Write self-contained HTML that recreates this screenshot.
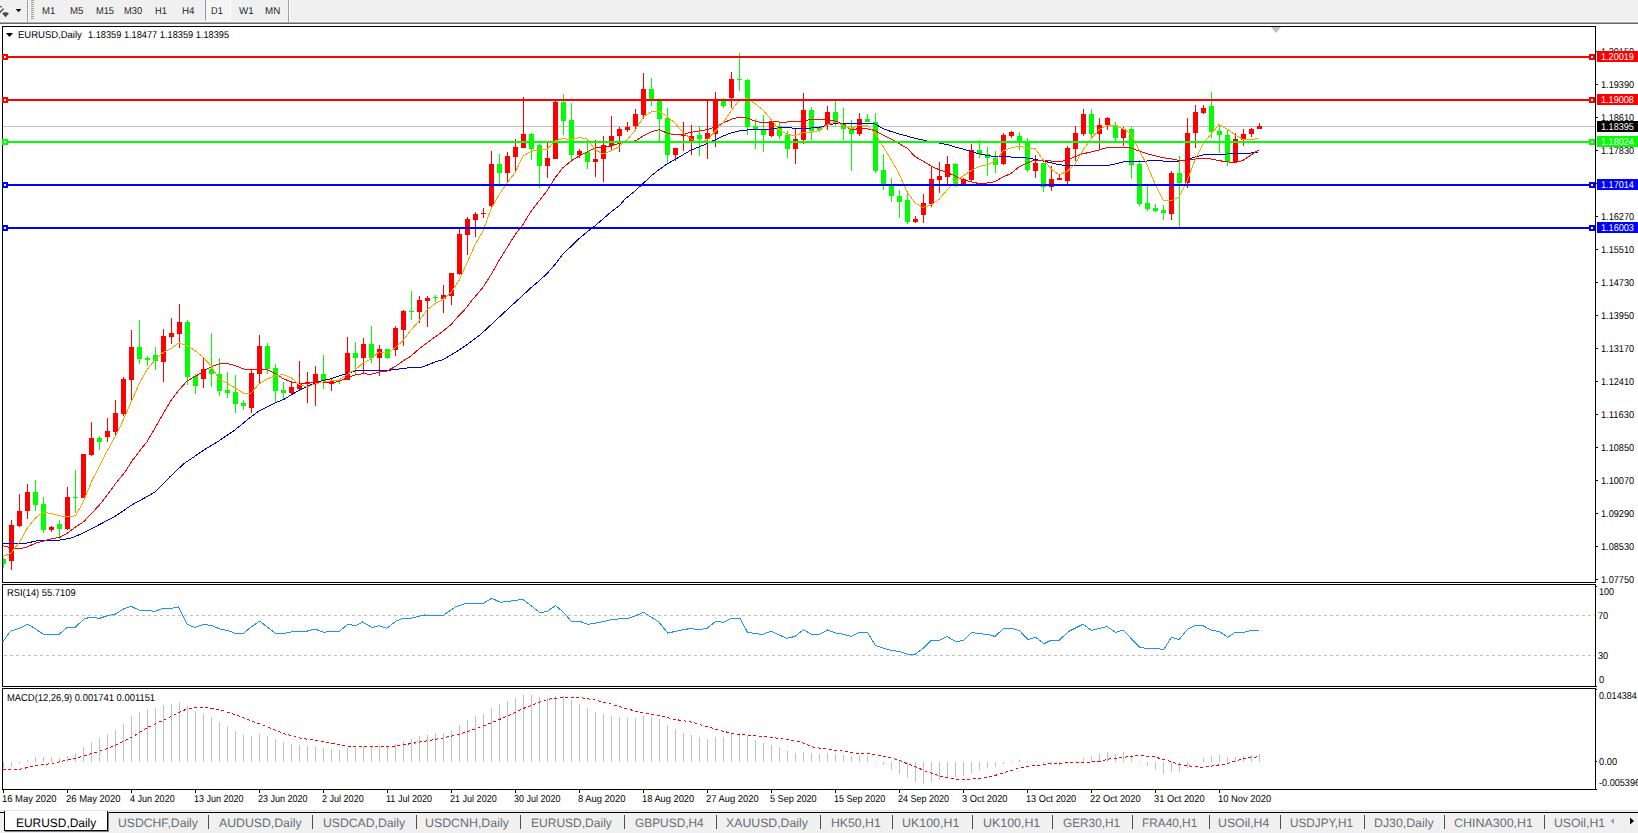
<!DOCTYPE html>
<html><head><meta charset="utf-8"><title>EURUSD,Daily</title>
<style>
html,body{margin:0;padding:0;background:#fff;}
html{overflow:hidden;width:1638px;height:833px;}
body{width:1638px;height:833px;overflow:hidden;position:relative;font-family:"Liberation Sans",sans-serif;}
.t{position:absolute;white-space:nowrap;line-height:1;color:#000;text-rendering:geometricPrecision;}
.ax{font-size:9.3px;left:1601px;}
.bx{position:absolute;left:1597px;width:41px;height:11px;}
.bx span{position:absolute;left:4px;top:1.6px;font-size:9.3px;line-height:9px;color:#fff;white-space:nowrap;}
.dt{font-size:9.3px;top:794px;}
.tb{font-size:9.5px;top:5.6px;color:#333;}
.tab{font-size:12px;top:816.6px;color:#6c6c72;}
.sep{position:absolute;top:815px;width:1px;height:14px;background:#505050;}
</style></head><body>
<div style="position:absolute;left:0;top:0;width:1638px;height:21px;background:#f0f0f0"></div>
<div style="position:absolute;left:0;top:21px;width:1638px;height:1px;background:#f8f8f8"></div>
<div style="position:absolute;left:0;top:22px;width:1638px;height:1px;background:#a8a8a8"></div>
<div style="position:absolute;left:0;top:23px;width:1638px;height:1px;background:#696969"></div>
<div style="position:absolute;left:27px;top:0;width:1px;height:22px;background:#a0a0a0"></div>
<div style="position:absolute;left:28px;top:0;width:1px;height:22px;background:#fff"></div>
<div style="position:absolute;left:288px;top:0;width:1px;height:22px;background:#a0a0a0"></div>
<div style="position:absolute;left:289px;top:0;width:1px;height:22px;background:#fff"></div>
<div style="position:absolute;left:31px;top:0;width:3px;height:20px;background:repeating-linear-gradient(#a0a0a0 0 1px,#f0f0f0 1px 2px)"></div>
<div style="position:absolute;left:205px;top:0;width:26px;height:21px;background:#f5f5f5;border-left:1px solid #9a9a9a;border-right:1px solid #fff;border-bottom:1px solid #fff;box-sizing:border-box"></div>
<svg style="position:absolute;left:0;top:0" width="30" height="22" viewBox="0 0 30 22"><path d="M-.5 12.800L3.600 8.600" stroke="#404040" stroke-width="1.300" fill="none"/><path d="M0 6.300L1.800 7.300" stroke="#404040" stroke-width="1.200" fill="none"/><path d="M2 13.300L4.300 12.300H6.600L9 13.300L5.500 17.200z" fill="#4a4a4a"/><path d="M15.800 9.100h5.500l-2.750 3.100z" fill="#000"/></svg>

<div class="t" style="left:42.2px;top:6.62px;font-size:10.0px;color:#262626;transform:scaleX(0.9501);transform-origin:0 0;">M1</div>
<div class="t" style="left:70.1px;top:6.62px;font-size:10.0px;color:#262626;transform:scaleX(0.9645);transform-origin:0 0;">M5</div>
<div class="t" style="left:96.2px;top:6.62px;font-size:10.0px;color:#262626;transform:scaleX(0.9252);transform-origin:0 0;">M15</div>
<div class="t" style="left:124.1px;top:6.62px;font-size:10.0px;color:#262626;transform:scaleX(0.9303);transform-origin:0 0;">M30</div>
<div class="t" style="left:155.3px;top:6.62px;font-size:10.0px;color:#262626;transform:scaleX(0.9308);transform-origin:0 0;">H1</div>
<div class="t" style="left:182.2px;top:6.62px;font-size:10.0px;color:#262626;transform:scaleX(0.9777);transform-origin:0 0;">H4</div>
<div class="t" style="left:211.4px;top:6.62px;font-size:10.0px;color:#262626;transform:scaleX(0.9229);transform-origin:0 0;">D1</div>
<div class="t" style="left:238.5px;top:6.62px;font-size:10.0px;color:#262626;transform:scaleX(0.9799);transform-origin:0 0;">W1</div>
<div class="t" style="left:265.3px;top:6.62px;font-size:10.0px;color:#262626;transform:scaleX(0.9773);transform-origin:0 0;">MN</div>
<svg style="position:absolute;left:0;top:0" width="1638" height="833" viewBox="0 0 1638 833"><defs><clipPath id="cp"><rect x="3" y="27" width="1592" height="555"/></clipPath></defs><g shape-rendering="crispEdges" clip-path="url(#cp)"><rect x="3" y="126" width="1592" height="1" fill="#c0c0c0"/><path d="M1 559h5v5h-5zM3 558h1v10h-1zM33 492h5v13h-5zM35 480h1v31h-1zM41 504h5v26h-5zM43 497h1v36h-1zM57 524h5v5h-5zM59 520h1v19h-1zM73 497h5v1h-5zM75 470h1v43h-1zM97 438h5v4h-5zM99 436h1v14h-1zM137 347h5v12h-5zM139 320h1v44h-1zM145 358h5v2h-5zM147 356h1v10h-1zM153 355h5v6h-5zM155 347h1v23h-1zM185 322h5v55h-5zM187 320h1v65h-1zM193 376h5v10h-5zM195 374h1v20h-1zM209 369h5v5h-5zM211 333h1v54h-1zM217 374h5v17h-5zM219 358h1v38h-1zM225 390h5v3h-5zM227 372h1v26h-1zM233 392h5v12h-5zM235 375h1v38h-1zM241 403h5v3h-5zM243 400h1v10h-1zM265 346h5v23h-5zM267 343h1v31h-1zM273 368h5v23h-5zM275 364h1v39h-1zM281 390h5v3h-5zM283 382h1v18h-1zM321 374h5v7h-5zM323 355h1v34h-1zM337 380h5v1h-5zM339 379h1v5h-1zM353 353h5v5h-5zM355 342h1v32h-1zM369 344h5v14h-5zM371 326h1v37h-1zM385 349h5v9h-5zM387 349h1v10h-1zM409 311h5v1h-5zM411 291h1v29h-1zM433 297h5v1h-5zM435 295h1v7h-1zM497 164h5v9h-5zM499 154h1v32h-1zM529 134h5v15h-5zM531 133h1v27h-1zM537 145h5v21h-5zM539 144h1v44h-1zM561 102h5v19h-5zM563 94h1v41h-1zM569 120h5v35h-5zM571 103h1v59h-1zM585 152h5v10h-5zM587 142h1v27h-1zM649 89h5v12h-5zM651 78h1v28h-1zM657 101h5v18h-5zM659 100h1v42h-1zM665 118h5v37h-5zM667 108h1v56h-1zM697 135h5v4h-5zM699 126h1v30h-1zM721 101h5v5h-5zM723 98h1v10h-1zM737 79h5v1h-5zM739 53h1v38h-1zM745 80h5v47h-5zM747 79h1v56h-1zM753 126h5v4h-5zM755 119h1v30h-1zM761 130h5v5h-5zM763 115h1v37h-1zM777 126h5v10h-5zM779 123h1v16h-1zM785 135h5v14h-5zM787 131h1v27h-1zM809 110h5v21h-5zM811 107h1v33h-1zM817 127h5v3h-5zM819 126h1v6h-1zM833 112h5v11h-5zM835 101h1v25h-1zM841 124h5v5h-5zM843 108h1v32h-1zM849 128h5v6h-5zM851 120h1v51h-1zM865 119h5v3h-5zM867 114h1v8h-1zM873 122h5v49h-5zM875 113h1v60h-1zM881 170h5v14h-5zM883 154h1v36h-1zM889 186h5v10h-5zM891 178h1v24h-1zM897 196h5v6h-5zM899 190h1v28h-1zM905 200h5v22h-5zM907 191h1v33h-1zM953 164h5v20h-5zM955 163h1v24h-1zM977 150h5v4h-5zM979 140h1v18h-1zM985 154h5v4h-5zM987 147h1v29h-1zM993 158h5v7h-5zM995 151h1v22h-1zM1017 136h5v6h-5zM1019 132h1v18h-1zM1025 142h5v28h-5zM1027 138h1v34h-1zM1041 163h5v24h-5zM1043 163h1v29h-1zM1089 114h5v20h-5zM1091 109h1v30h-1zM1113 125h5v13h-5zM1115 122h1v19h-1zM1129 129h5v36h-5zM1131 127h1v52h-1zM1137 164h5v40h-5zM1139 160h1v46h-1zM1145 203h5v6h-5zM1147 186h1v25h-1zM1153 208h5v3h-5zM1155 204h1v8h-1zM1161 210h5v3h-5zM1163 205h1v15h-1zM1177 173h5v10h-5zM1179 156h1v71h-1zM1209 106h5v26h-5zM1211 92h1v46h-1zM1217 131h5v4h-5zM1219 125h1v28h-1zM1225 135h5v27h-5zM1227 130h1v36h-1z" fill="#00ff00"/><path d="M9 525h5v36h-5zM11 520h1v50h-1zM17 511h5v15h-5zM19 494h1v33h-1zM25 492h5v19h-5zM27 484h1v35h-1zM49 527h5v3h-5zM51 526h1v6h-1zM65 497h5v32h-5zM67 487h1v43h-1zM81 454h5v44h-5zM83 454h1v44h-1zM89 438h5v17h-5zM91 422h1v34h-1zM105 431h5v6h-5zM107 418h1v24h-1zM113 413h5v19h-5zM115 400h1v36h-1zM121 379h5v35h-5zM123 377h1v39h-1zM129 347h5v33h-5zM131 330h1v71h-1zM161 336h5v26h-5zM163 329h1v53h-1zM169 333h5v4h-5zM171 318h1v26h-1zM177 322h5v12h-5zM179 304h1v44h-1zM201 369h5v10h-5zM203 358h1v30h-1zM249 373h5v35h-5zM251 369h1v44h-1zM257 346h5v28h-5zM259 335h1v49h-1zM289 387h5v6h-5zM291 381h1v13h-1zM297 383h5v6h-5zM299 361h1v29h-1zM305 382h5v2h-5zM307 372h1v31h-1zM313 374h5v10h-5zM315 366h1v40h-1zM329 381h5v3h-5zM331 379h1v12h-1zM345 353h5v27h-5zM347 337h1v43h-1zM361 344h5v14h-5zM363 338h1v35h-1zM377 349h5v9h-5zM379 345h1v31h-1zM393 328h5v22h-5zM395 326h1v30h-1zM401 311h5v19h-5zM403 310h1v36h-1zM417 300h5v12h-5zM419 296h1v27h-1zM425 298h5v3h-5zM427 296h1v31h-1zM441 295h5v4h-5zM443 285h1v28h-1zM449 273h5v23h-5zM451 273h1v32h-1zM457 234h5v40h-5zM459 228h1v47h-1zM465 219h5v16h-5zM467 217h1v38h-1zM473 214h5v6h-5zM475 212h1v25h-1zM481 213h5v1h-5zM483 208h1v10h-1zM489 164h5v42h-5zM491 151h1v57h-1zM505 156h5v17h-5zM507 152h1v31h-1zM513 147h5v10h-5zM515 139h1v33h-1zM521 134h5v14h-5zM523 97h1v51h-1zM545 158h5v8h-5zM547 143h1v35h-1zM553 102h5v57h-5zM555 100h1v59h-1zM577 151h5v4h-5zM579 149h1v9h-1zM593 159h5v3h-5zM595 140h1v37h-1zM601 145h5v14h-5zM603 136h1v46h-1zM609 136h5v10h-5zM611 116h1v35h-1zM617 129h5v7h-5zM619 127h1v25h-1zM625 127h5v3h-5zM627 122h1v10h-1zM633 114h5v12h-5zM635 109h1v21h-1zM641 89h5v26h-5zM643 73h1v46h-1zM673 148h5v7h-5zM675 148h1v13h-1zM681 135h5v1h-5zM683 122h1v29h-1zM689 136h5v5h-5zM691 125h1v30h-1zM705 133h5v6h-5zM707 101h1v58h-1zM713 100h5v34h-5zM715 92h1v55h-1zM729 79h5v19h-5zM731 72h1v36h-1zM769 121h5v15h-5zM771 120h1v17h-1zM793 139h5v10h-5zM795 129h1v35h-1zM801 110h5v30h-5zM803 93h1v51h-1zM825 112h5v13h-5zM827 106h1v24h-1zM857 119h5v15h-5zM859 113h1v23h-1zM913 219h5v3h-5zM915 216h1v7h-1zM921 203h5v12h-5zM923 194h1v29h-1zM929 179h5v25h-5zM931 167h1v40h-1zM937 176h5v4h-5zM939 162h1v31h-1zM945 164h5v13h-5zM947 156h1v28h-1zM961 179h5v5h-5zM963 178h1v6h-1zM969 150h5v30h-5zM971 144h1v37h-1zM1001 135h5v29h-5zM1003 133h1v32h-1zM1009 132h5v4h-5zM1011 131h1v7h-1zM1033 163h5v8h-5zM1035 155h1v23h-1zM1049 179h5v8h-5zM1051 166h1v25h-1zM1057 178h5v2h-5zM1059 174h1v6h-1zM1065 148h5v33h-5zM1067 146h1v38h-1zM1073 133h5v16h-5zM1075 126h1v35h-1zM1081 114h5v20h-5zM1083 109h1v27h-1zM1097 125h5v9h-5zM1099 118h1v32h-1zM1105 118h5v7h-5zM1107 117h1v13h-1zM1121 129h5v9h-5zM1123 127h1v19h-1zM1169 173h5v41h-5zM1171 171h1v49h-1zM1185 133h5v50h-5zM1187 118h1v70h-1zM1193 112h5v21h-5zM1195 105h1v43h-1zM1201 108h5v5h-5zM1203 105h1v9h-1zM1233 139h5v23h-5zM1235 133h1v29h-1zM1241 134h5v6h-5zM1243 129h1v17h-1zM1249 129h5v5h-5zM1251 128h1v9h-1zM1257 126h5v3h-5zM1259 123h1v6h-1z" fill="#ff0000"/><polyline points="0.0,543.6 14.5,543.6 19.0,544.0 27.0,543.0 36.0,541.0 52.0,540.7 60.6,540.0 72.7,537.6 83.6,532.7 100.6,524.0 116.0,515.8 132.0,504.8 143.0,498.8 155.0,492.0 169.7,477.0 184.0,463.6 200.0,452.7 204.7,449.5 219.0,440.8 235.0,429.9 251.0,416.8 259.0,411.0 275.0,403.0 285.0,398.8 291.0,394.9 299.0,390.5 307.0,386.6 315.0,383.0 323.0,380.5 331.0,378.8 339.0,376.0 347.0,373.6 355.0,371.0 360.0,370.4 387.0,370.4 395.0,369.6 407.0,368.0 420.8,367.5 427.7,364.9 435.0,362.0 443.0,359.6 451.0,355.0 459.0,350.0 465.0,346.0 480.0,335.0 495.0,321.0 510.0,307.0 518.8,299.0 531.0,287.7 539.0,281.0 547.0,273.5 555.0,264.5 563.0,254.0 571.0,246.4 579.0,238.7 587.0,232.0 595.0,225.8 603.0,219.0 611.0,212.0 620.0,205.0 625.0,199.0 635.0,191.0 643.0,183.6 651.0,176.0 659.0,169.7 667.0,164.0 675.0,159.4 683.0,154.8 691.0,150.0 699.0,147.0 707.0,143.6 715.0,139.9 723.0,136.0 731.0,133.0 739.0,131.0 747.0,130.0 755.0,129.0 763.0,129.0 771.0,129.0 779.0,127.8 787.0,127.4 795.0,128.3 803.0,128.7 811.0,128.0 819.0,127.8 827.0,125.0 835.0,123.7 843.0,123.7 851.0,123.7 859.0,123.7 867.0,123.5 875.0,124.0 883.0,128.7 891.0,131.5 899.0,134.0 907.0,136.0 915.0,138.4 923.0,140.0 931.0,142.0 939.0,143.0 947.0,144.5 955.0,147.0 963.0,149.0 971.0,151.4 979.0,153.8 987.0,155.3 995.0,156.6 1003.0,156.6 1011.0,157.0 1019.0,157.6 1027.0,158.0 1035.0,159.4 1043.0,161.0 1051.0,162.8 1059.0,164.6 1067.0,165.6 1075.0,165.6 1083.0,165.6 1091.0,165.6 1099.0,165.6 1107.0,165.6 1115.0,164.0 1123.0,162.0 1131.0,161.0 1139.0,161.0 1147.0,161.0 1155.0,160.3 1163.0,161.0 1171.0,161.0 1179.0,161.0 1187.0,160.0 1195.0,157.0 1203.0,155.0 1211.0,154.0 1219.0,154.0 1227.0,154.0 1235.0,153.5 1243.0,153.5 1251.0,153.0 1258.5,152.0" fill="none" stroke="#0000cd" stroke-width="1"/><polyline points="0.0,545.0 11.0,547.8 19.0,549.0 27.0,547.0 36.0,543.0 43.6,541.0 52.0,538.8 60.6,537.0 68.0,532.7 75.6,527.0 83.6,521.8 92.0,513.0 100.6,503.6 108.0,494.0 116.0,483.0 125.0,472.0 132.0,461.0 143.0,446.7 147.0,441.8 155.0,428.0 163.0,414.0 171.0,400.5 179.0,390.0 187.0,381.0 195.0,376.5 203.0,371.6 211.0,366.8 219.0,364.0 227.0,363.4 235.0,365.5 243.0,368.8 251.0,370.0 259.0,368.8 267.0,369.7 275.0,373.6 283.0,378.4 291.0,382.0 299.0,383.3 307.0,383.0 315.0,382.8 323.0,382.0 331.0,383.0 339.0,381.4 347.0,377.9 355.0,375.0 363.0,373.6 371.0,374.4 379.0,372.0 387.0,371.0 395.0,366.6 403.0,361.0 411.0,356.0 419.0,349.0 427.0,343.0 435.0,337.0 443.0,331.2 451.0,324.5 459.0,315.5 465.0,309.3 472.0,300.3 483.0,287.3 491.0,274.8 499.0,260.6 507.0,247.7 515.0,234.8 523.0,224.5 531.0,211.5 539.0,201.0 547.0,190.9 555.0,178.0 563.0,167.6 571.0,161.0 579.0,156.0 587.0,152.0 595.0,148.0 603.0,147.5 611.0,146.0 619.0,143.4 627.0,142.0 636.0,140.8 643.0,136.0 651.0,132.0 659.0,129.7 667.0,133.0 675.0,135.0 683.0,134.0 691.0,132.4 699.0,131.0 707.0,129.7 715.0,126.9 723.0,123.0 731.0,119.4 739.0,117.0 747.0,118.0 755.0,121.0 763.0,123.0 771.0,121.8 779.0,122.0 787.0,122.0 795.0,121.9 803.0,121.0 811.0,119.4 819.0,119.4 827.0,119.8 835.0,121.0 843.0,124.0 851.0,129.7 859.0,128.7 867.0,128.7 875.0,130.6 883.0,135.0 891.0,139.0 899.0,143.6 907.0,148.0 915.0,156.6 923.0,161.0 931.0,166.0 939.0,169.7 947.0,172.4 955.0,176.0 963.0,179.9 971.0,181.7 979.0,183.6 987.0,183.0 995.0,181.7 1003.0,177.0 1011.0,173.4 1019.0,166.9 1027.0,163.0 1035.0,160.0 1043.0,160.9 1051.0,161.0 1059.0,162.0 1067.0,160.0 1075.0,156.6 1083.0,153.8 1091.0,152.0 1099.0,150.0 1107.0,147.7 1115.0,147.0 1123.0,147.0 1131.0,148.0 1139.0,151.0 1147.0,153.8 1155.0,155.8 1163.0,157.8 1171.0,158.8 1179.0,160.3 1187.0,160.4 1195.0,159.0 1203.0,158.0 1211.0,159.0 1219.0,160.6 1227.0,161.9 1235.0,162.4 1243.0,160.4 1251.0,155.0 1258.5,150.0" fill="none" stroke="#ff0000" stroke-width="1"/><polyline points="0.0,558.0 11.0,553.0 19.4,542.4 27.4,527.9 36.4,517.0 43.6,512.0 52.0,513.8 60.6,516.0 68.0,517.0 75.6,515.8 83.6,501.0 92.0,480.6 100.6,463.6 108.0,449.5 115.4,436.0 123.0,420.6 131.0,402.4 139.0,384.0 147.0,369.7 155.0,360.0 163.0,352.4 171.0,348.6 179.0,342.8 187.0,345.7 195.0,350.5 203.0,357.0 211.0,365.9 219.0,379.0 227.0,383.0 235.0,388.0 243.0,393.0 251.0,393.0 259.0,384.0 267.0,379.0 275.0,375.9 283.0,374.5 291.0,377.7 299.0,384.5 307.0,387.0 315.0,384.0 323.0,382.0 331.0,380.9 339.0,380.0 347.0,374.4 355.0,370.0 363.0,363.0 371.0,358.8 379.0,351.8 387.0,353.6 395.0,348.0 403.0,340.5 411.0,330.0 419.0,321.0 427.0,310.0 435.0,303.6 443.0,299.5 451.0,292.5 459.0,280.5 467.0,263.0 475.0,245.0 483.0,231.0 491.0,209.0 499.0,194.8 507.0,183.0 515.0,172.8 523.0,156.0 531.0,151.4 539.0,150.0 547.0,149.6 555.0,141.0 563.0,138.5 571.0,139.8 579.0,137.4 587.0,139.0 595.0,149.6 603.0,154.0 611.0,151.0 619.0,146.6 627.0,139.9 635.0,130.6 643.0,117.6 651.0,112.0 659.0,111.0 667.0,116.6 675.0,123.0 683.0,132.4 691.0,139.0 699.0,142.7 707.0,139.9 715.0,131.5 723.0,123.0 731.0,111.0 739.0,100.8 747.0,98.6 755.0,103.6 763.0,110.0 771.0,119.4 779.0,129.7 787.0,134.0 795.0,136.0 803.0,132.4 811.0,132.4 819.0,130.6 827.0,125.0 835.0,122.0 843.0,125.0 851.0,128.7 859.0,125.0 867.0,125.0 875.0,133.4 883.0,146.4 891.0,159.4 899.0,173.4 907.0,192.0 915.0,203.0 923.0,207.4 931.0,205.0 939.0,199.4 947.0,190.0 955.0,181.7 963.0,176.0 971.0,170.6 979.0,166.5 987.0,164.8 995.0,161.0 1003.0,151.0 1011.0,147.9 1019.0,146.0 1027.0,148.0 1035.0,148.6 1043.0,159.4 1051.0,168.7 1059.0,175.0 1067.0,171.5 1075.0,164.0 1083.0,150.0 1091.0,139.0 1099.0,129.7 1107.0,125.4 1115.0,125.4 1123.0,128.7 1131.0,134.0 1139.0,150.0 1147.0,165.0 1155.0,183.8 1163.0,200.0 1171.0,201.0 1179.0,197.0 1187.0,181.0 1195.0,160.0 1203.0,144.0 1211.0,134.0 1219.0,124.7 1227.0,129.0 1235.0,134.9 1243.0,139.5 1251.0,140.0 1258.5,138.0" fill="none" stroke="#ffa500" stroke-width="1"/><rect x="3" y="56" width="1592" height="2" fill="#ff0000"/><rect x="3" y="99" width="1592" height="2" fill="#ff0000"/><rect x="3" y="141" width="1592" height="2" fill="#00ff00"/><rect x="3" y="184" width="1592" height="2" fill="#0000ff"/><rect x="3" y="227" width="1592" height="2" fill="#0000ff"/></g><g shape-rendering="crispEdges"><path d="M3 615.5H1595" stroke="#c0c0c0" stroke-width="1" stroke-dasharray="3 3" stroke-dashoffset="5" fill="none"/><path d="M3 655.5H1595" stroke="#c0c0c0" stroke-width="1" stroke-dasharray="3 3" stroke-dashoffset="5" fill="none"/><path d="M3 762h1v6h-1zM11 762h1v5h-1zM19 762h1v2h-1zM27 760h1v2h-1zM35 757h1v5h-1zM43 757h1v5h-1zM51 757h1v5h-1zM59 758h1v4h-1zM67 756h1v6h-1zM75 753h1v9h-1zM83 747h1v15h-1zM91 742h1v20h-1zM99 738h1v24h-1zM107 734h1v28h-1zM115 730h1v32h-1zM123 724h1v38h-1zM131 716h1v46h-1zM139 712h1v50h-1zM147 709h1v53h-1zM155 708h1v54h-1zM163 705h1v57h-1zM171 704h1v58h-1zM179 702h1v60h-1zM187 706h1v56h-1zM195 711h1v51h-1zM203 714h1v48h-1zM211 717h1v45h-1zM219 722h1v40h-1zM227 726h1v36h-1zM235 731h1v31h-1zM243 735h1v27h-1zM251 736h1v26h-1zM259 734h1v28h-1zM267 736h1v26h-1zM275 739h1v23h-1zM283 742h1v20h-1zM291 744h1v18h-1zM299 745h1v17h-1zM307 746h1v16h-1zM315 747h1v15h-1zM323 748h1v14h-1zM331 749h1v13h-1zM339 750h1v12h-1zM347 748h1v14h-1zM355 748h1v14h-1zM363 747h1v15h-1zM371 747h1v15h-1zM379 745h1v17h-1zM387 746h1v16h-1zM395 744h1v18h-1zM403 741h1v21h-1zM411 739h1v23h-1zM419 736h1v26h-1zM427 735h1v27h-1zM435 733h1v29h-1zM443 733h1v29h-1zM451 730h1v32h-1zM459 725h1v37h-1zM467 720h1v42h-1zM475 716h1v46h-1zM483 714h1v48h-1zM491 708h1v54h-1zM499 704h1v58h-1zM507 701h1v61h-1zM515 698h1v64h-1zM523 695h1v67h-1zM531 695h1v67h-1zM539 697h1v65h-1zM547 698h1v64h-1zM555 696h1v66h-1zM563 696h1v66h-1zM571 700h1v62h-1zM579 704h1v58h-1zM587 708h1v54h-1zM595 712h1v50h-1zM603 714h1v48h-1zM611 716h1v46h-1zM619 717h1v45h-1zM627 718h1v44h-1zM635 718h1v44h-1zM643 716h1v46h-1zM651 717h1v45h-1zM659 719h1v43h-1zM667 725h1v37h-1zM675 729h1v33h-1zM683 733h1v29h-1zM691 735h1v27h-1zM699 737h1v25h-1zM707 739h1v23h-1zM715 737h1v25h-1zM723 737h1v25h-1zM731 733h1v29h-1zM739 733h1v29h-1zM747 736h1v26h-1zM755 740h1v22h-1zM763 743h1v19h-1zM771 745h1v17h-1zM779 747h1v15h-1zM787 751h1v11h-1zM795 753h1v9h-1zM803 752h1v10h-1zM811 753h1v9h-1zM819 754h1v8h-1zM827 753h1v9h-1zM835 754h1v8h-1zM843 755h1v7h-1zM851 756h1v6h-1zM859 756h1v6h-1zM867 756h1v6h-1zM875 761h1v1h-1zM883 762h1v3h-1zM891 762h1v8h-1zM899 762h1v12h-1zM907 762h1v16h-1zM915 762h1v20h-1zM923 762h1v22h-1zM931 762h1v20h-1zM939 762h1v18h-1zM947 762h1v16h-1zM955 762h1v15h-1zM963 762h1v14h-1zM971 762h1v11h-1zM979 762h1v8h-1zM987 762h1v6h-1zM995 762h1v5h-1zM1003 762h1v2h-1zM1011 761h1v1h-1zM1019 760h1v2h-1zM1027 761h1v1h-1zM1035 761h1v1h-1zM1043 762h1v2h-1zM1051 762h1v3h-1zM1059 762h1v4h-1zM1067 762h1v2h-1zM1075 761h1v1h-1zM1083 758h1v4h-1zM1091 756h1v6h-1zM1099 754h1v8h-1zM1107 752h1v10h-1zM1115 754h1v8h-1zM1123 752h1v10h-1zM1131 755h1v7h-1zM1139 761h1v1h-1zM1147 762h1v4h-1zM1155 762h1v8h-1zM1163 762h1v12h-1zM1171 762h1v10h-1zM1179 762h1v10h-1zM1187 762h1v6h-1zM1195 761h1v1h-1zM1203 758h1v4h-1zM1211 756h1v6h-1zM1219 755h1v7h-1zM1227 757h1v5h-1zM1235 757h1v5h-1zM1243 756h1v6h-1zM1251 755h1v7h-1zM1259 754h1v8h-1z" fill="#c0c0c0"/><g fill="#000"><rect x="2" y="26" width="1594" height="1"/><rect x="2" y="26" width="1" height="764"/><rect x="1595" y="26" width="1" height="764"/><rect x="2" y="582" width="1594" height="1"/><rect x="2" y="584" width="1594" height="1"/><rect x="2" y="686" width="1594" height="1"/><rect x="2" y="688" width="1594" height="1"/><rect x="2" y="789" width="1594" height="1"/><rect x="0" y="583" width="1638" height="1" fill="#fff"/><rect x="0" y="687" width="1638" height="1" fill="#fff"/><rect x="1596" y="579" width="2" height="1"/><rect x="1596" y="546" width="2" height="1"/><rect x="1596" y="513" width="2" height="1"/><rect x="1596" y="480" width="2" height="1"/><rect x="1596" y="447" width="2" height="1"/><rect x="1596" y="414" width="2" height="1"/><rect x="1596" y="381" width="2" height="1"/><rect x="1596" y="348" width="2" height="1"/><rect x="1596" y="315" width="2" height="1"/><rect x="1596" y="282" width="2" height="1"/><rect x="1596" y="249" width="2" height="1"/><rect x="1596" y="216" width="2" height="1"/><rect x="1596" y="183" width="2" height="1"/><rect x="1596" y="150" width="2" height="1"/><rect x="1596" y="117" width="2" height="1"/><rect x="1596" y="84" width="2" height="1"/><rect x="1596" y="51" width="2" height="1"/><rect x="1596" y="586" width="1" height="1"/><rect x="1596" y="686" width="1" height="1"/><rect x="1596" y="689" width="1" height="1"/><rect x="1596" y="761" width="1" height="1"/><rect x="1596" y="789" width="1" height="1"/><rect x="3" y="790" width="1" height="3"/><rect x="67" y="790" width="1" height="3"/><rect x="131" y="790" width="1" height="3"/><rect x="195" y="790" width="1" height="3"/><rect x="259" y="790" width="1" height="3"/><rect x="323" y="790" width="1" height="3"/><rect x="387" y="790" width="1" height="3"/><rect x="451" y="790" width="1" height="3"/><rect x="515" y="790" width="1" height="3"/><rect x="579" y="790" width="1" height="3"/><rect x="643" y="790" width="1" height="3"/><rect x="707" y="790" width="1" height="3"/><rect x="771" y="790" width="1" height="3"/><rect x="835" y="790" width="1" height="3"/><rect x="899" y="790" width="1" height="3"/><rect x="963" y="790" width="1" height="3"/><rect x="1027" y="790" width="1" height="3"/><rect x="1091" y="790" width="1" height="3"/><rect x="1155" y="790" width="1" height="3"/><rect x="1219" y="790" width="1" height="3"/></g></g><g shape-rendering="crispEdges"><rect x="2" y="54" width="6" height="6" fill="#ff0000"/><rect x="4" y="56" width="2" height="2" fill="#fff"/><rect x="1589" y="54" width="6" height="6" fill="#ff0000"/><rect x="1591" y="56" width="2" height="2" fill="#fff"/><rect x="2" y="97" width="6" height="6" fill="#ff0000"/><rect x="4" y="99" width="2" height="2" fill="#fff"/><rect x="1589" y="97" width="6" height="6" fill="#ff0000"/><rect x="1591" y="99" width="2" height="2" fill="#fff"/><rect x="2" y="139" width="6" height="6" fill="#00ff00"/><rect x="4" y="141" width="2" height="2" fill="#fff"/><rect x="1589" y="139" width="6" height="6" fill="#00ff00"/><rect x="1591" y="141" width="2" height="2" fill="#fff"/><rect x="2" y="182" width="6" height="6" fill="#0000ff"/><rect x="4" y="184" width="2" height="2" fill="#fff"/><rect x="1589" y="182" width="6" height="6" fill="#0000ff"/><rect x="1591" y="184" width="2" height="2" fill="#fff"/><rect x="2" y="225" width="6" height="6" fill="#0000ff"/><rect x="4" y="227" width="2" height="2" fill="#fff"/><rect x="1589" y="225" width="6" height="6" fill="#0000ff"/><rect x="1591" y="227" width="2" height="2" fill="#fff"/></g><polyline points="2.7,641.8 10.7,631.0 18.8,628.4 27.7,624.3 35.0,628.4 43.5,634.5 59.0,634.5 67.0,627.5 75.0,627.5 84.0,619.0 91.0,617.0 99.4,618.4 107.4,615.7 115.5,614.0 123.6,609.0 131.0,606.3 139.7,610.4 147.7,610.4 155.0,611.4 163.0,608.2 172.0,608.2 178.6,606.9 187.0,624.3 195.0,627.5 204.0,624.3 212.0,625.7 220.0,629.0 228.0,630.5 236.0,633.7 243.0,633.7 251.0,627.0 259.8,621.0 267.0,627.0 276.0,633.7 286.0,633.0 295.5,631.0 307.6,631.0 314.8,629.0 323.7,632.4 331.7,631.0 339.8,631.0 347.9,624.3 355.4,625.7 362.6,622.0 372.0,627.5 378.8,625.7 386.8,628.4 396.0,621.0 403.0,618.4 412.0,618.0 424.0,615.0 443.4,615.2 455.5,606.9 465.0,603.6 483.0,603.4 491.8,598.3 500.4,602.3 510.6,601.0 522.7,599.3 531.5,606.0 540.0,612.8 547.4,611.4 555.4,605.5 563.5,612.2 571.6,621.6 580.4,621.6 587.7,624.3 596.5,623.0 612.7,619.5 628.8,618.0 636.0,615.7 643.6,612.2 650.8,617.0 658.9,622.0 667.7,633.0 679.8,630.5 690.6,628.4 698.6,629.7 707.0,628.4 716.0,621.0 723.0,622.4 731.4,618.4 740.0,618.4 747.5,632.4 763.0,634.5 771.0,631.0 779.0,635.0 787.0,638.3 795.0,636.4 803.4,629.7 811.4,634.3 819.5,634.3 827.6,630.0 835.6,633.0 843.7,634.3 851.0,636.4 859.0,632.4 867.5,632.4 875.3,645.3 884.0,648.5 892.0,650.4 900.0,651.7 907.8,654.4 915.0,654.4 923.0,648.5 931.0,640.4 939.0,640.4 946.8,636.4 956.0,641.8 963.4,640.4 971.5,632.4 979.5,633.7 987.6,634.5 995.0,636.4 1003.7,628.4 1011.8,628.4 1019.8,631.0 1027.9,639.6 1035.4,637.2 1044.0,643.7 1050.7,640.4 1059.3,640.4 1068.2,631.6 1083.0,624.3 1091.6,630.5 1099.0,628.4 1107.0,626.5 1115.7,632.4 1123.0,630.0 1139.4,647.0 1146.0,648.5 1158.0,648.5 1163.5,649.8 1171.6,637.2 1179.0,639.6 1187.7,629.0 1195.0,625.7 1203.0,625.7 1211.0,630.0 1220.0,631.8 1227.5,637.2 1235.3,632.4 1244.0,632.4 1250.8,630.5 1259.0,630.5" fill="none" stroke="#1e90ff" stroke-width="1" shape-rendering="crispEdges"/><polyline points="2.7,769.6 21.5,769.0 35.0,765.6 51.0,763.7 67.0,760.2 83.0,756.2 99.4,751.3 115.5,745.4 131.6,737.4 147.7,727.4 163.9,719.9 180.0,711.9 188.0,708.6 196.0,707.8 206.8,707.8 220.0,709.7 236.4,715.0 252.5,721.3 268.6,727.4 284.7,733.9 300.9,738.2 317.0,740.6 333.0,743.6 346.5,746.2 370.7,746.8 394.9,746.2 411.0,743.6 427.0,740.9 443.4,737.9 459.5,734.2 475.7,728.8 491.8,722.6 507.9,715.9 523.0,708.6 539.0,702.5 548.0,699.2 563.0,697.6 580.4,697.6 593.9,699.8 610.0,703.8 626.0,708.6 642.0,712.7 658.3,715.4 674.4,719.4 690.6,721.8 706.7,726.6 722.8,731.2 739.0,734.7 755.0,735.5 771.0,737.4 787.3,739.5 800.7,742.0 814.0,747.3 830.0,749.5 846.4,751.6 859.8,753.5 870.7,754.0 881.5,755.6 890.9,758.0 899.0,760.2 907.0,763.7 915.0,766.4 923.0,770.2 931.0,773.0 939.0,775.8 947.0,777.7 956.7,779.3 970.0,779.3 980.9,778.2 995.0,775.5 1006.4,771.8 1018.5,768.3 1034.6,765.6 1050.7,763.7 1066.8,762.9 1083.0,762.4 1099.0,761.6 1109.8,758.9 1123.0,757.5 1131.0,756.2 1140.7,755.4 1155.0,757.0 1166.0,760.2 1179.0,764.2 1190.4,766.0 1203.0,767.5 1214.6,765.6 1227.0,763.7 1236.0,760.8 1246.8,758.0 1259.0,756.7" fill="none" stroke="#ff0000" stroke-width="1" stroke-dasharray="3 2.5" shape-rendering="crispEdges"/><path d="M1271 27h10l-5 6z" fill="#c0c0c0"/><path d="M6 33h7l-3.5 4z" fill="#000"/></svg>
<div class="t" style="left:17.8px;top:30.52px;font-size:10.0px;transform:scaleX(0.9488);transform-origin:0 0;">EURUSD,Daily</div>
<div class="t" style="left:88.1px;top:30.52px;font-size:10.0px;transform:scaleX(0.9225);transform-origin:0 0;">1.18359 1.18477 1.18359 1.18395</div>
<div class="t" style="left:6.9px;top:589.32px;font-size:10.0px;transform:scaleX(0.9347);transform-origin:0 0;">RSI(14) 55.7109</div>
<div class="t" style="left:6.9px;top:693.51px;font-size:10.0px;transform:scaleX(0.9390);transform-origin:0 0;">MACD(12,26,9) 0.001741 0.001151</div>
<div class="t" style="left:1601.0px;top:575.62px;font-size:10.0px;transform:scaleX(0.9155);transform-origin:0 0;">1.07750</div>
<div class="t" style="left:1601.0px;top:542.62px;font-size:10.0px;transform:scaleX(0.9155);transform-origin:0 0;">1.08530</div>
<div class="t" style="left:1601.0px;top:509.62px;font-size:10.0px;transform:scaleX(0.9155);transform-origin:0 0;">1.09290</div>
<div class="t" style="left:1601.0px;top:476.62px;font-size:10.0px;transform:scaleX(0.9155);transform-origin:0 0;">1.10070</div>
<div class="t" style="left:1601.0px;top:443.62px;font-size:10.0px;transform:scaleX(0.9155);transform-origin:0 0;">1.10850</div>
<div class="t" style="left:1601.0px;top:410.62px;font-size:10.0px;transform:scaleX(0.9347);transform-origin:0 0;">1.11630</div>
<div class="t" style="left:1601.0px;top:377.62px;font-size:10.0px;transform:scaleX(0.9155);transform-origin:0 0;">1.12410</div>
<div class="t" style="left:1601.0px;top:344.62px;font-size:10.0px;transform:scaleX(0.9155);transform-origin:0 0;">1.13170</div>
<div class="t" style="left:1601.0px;top:311.62px;font-size:10.0px;transform:scaleX(0.9155);transform-origin:0 0;">1.13950</div>
<div class="t" style="left:1601.0px;top:278.62px;font-size:10.0px;transform:scaleX(0.9155);transform-origin:0 0;">1.14730</div>
<div class="t" style="left:1601.0px;top:245.62px;font-size:10.0px;transform:scaleX(0.9155);transform-origin:0 0;">1.15510</div>
<div class="t" style="left:1601.0px;top:212.62px;font-size:10.0px;transform:scaleX(0.9155);transform-origin:0 0;">1.16270</div>
<div class="t" style="left:1601.0px;top:179.62px;font-size:10.0px;transform:scaleX(0.9155);transform-origin:0 0;">1.17050</div>
<div class="t" style="left:1601.0px;top:146.62px;font-size:10.0px;transform:scaleX(0.9155);transform-origin:0 0;">1.17830</div>
<div class="t" style="left:1601.0px;top:113.61px;font-size:10.0px;transform:scaleX(0.9155);transform-origin:0 0;">1.18610</div>
<div class="t" style="left:1601.0px;top:80.61px;font-size:10.0px;transform:scaleX(0.9155);transform-origin:0 0;">1.19390</div>
<div class="t" style="left:1601.0px;top:47.62px;font-size:10.0px;transform:scaleX(0.9155);transform-origin:0 0;">1.20150</div>
<div class="t" style="left:1599.2px;top:587.62px;font-size:10.0px;transform:scaleX(0.9049);transform-origin:0 0;">100</div>
<div class="t" style="left:1597.6px;top:611.72px;font-size:10.0px;transform:scaleX(0.9169);transform-origin:0 0;">70</div>
<div class="t" style="left:1597.6px;top:651.72px;font-size:10.0px;transform:scaleX(0.9169);transform-origin:0 0;">30</div>
<div class="t" style="left:1599.2px;top:675.62px;font-size:10.0px;transform:scaleX(0.9348);transform-origin:0 0;">0</div>
<div class="t" style="left:1599.0px;top:691.51px;font-size:10.0px;transform:scaleX(0.9061);transform-origin:0 0;">0.014384</div>
<div class="t" style="left:1598.8px;top:757.51px;font-size:10.0px;transform:scaleX(0.9298);transform-origin:0 0;">0.00</div>
<div class="t" style="left:1598.8px;top:778.62px;font-size:10.0px;transform:scaleX(0.9124);transform-origin:0 0;">-0.005396</div>
<div class="bx" style="top:51px;background:#ff0000"></div>
<div class="t" style="left:1601.2px;top:52.62px;font-size:10.0px;color:#fff;transform:scaleX(0.9100);transform-origin:0 0;">1.20019</div>
<div class="bx" style="top:94px;background:#ff0000"></div>
<div class="t" style="left:1601.2px;top:95.61px;font-size:10.0px;color:#fff;transform:scaleX(0.9100);transform-origin:0 0;">1.19008</div>
<div class="bx" style="top:121px;background:#000"></div>
<div class="t" style="left:1601.2px;top:122.61px;font-size:10.0px;color:#fff;transform:scaleX(0.9100);transform-origin:0 0;">1.18395</div>
<div class="bx" style="top:136px;background:#00ff00"></div>
<div class="t" style="left:1601.2px;top:137.62px;font-size:10.0px;color:#fff;transform:scaleX(0.9100);transform-origin:0 0;">1.18024</div>
<div class="bx" style="top:179px;background:#0000ff"></div>
<div class="t" style="left:1601.2px;top:180.62px;font-size:10.0px;color:#fff;transform:scaleX(0.9100);transform-origin:0 0;">1.17014</div>
<div class="bx" style="top:222px;background:#0000ff"></div>
<div class="t" style="left:1601.2px;top:223.62px;font-size:10.0px;color:#fff;transform:scaleX(0.9100);transform-origin:0 0;">1.16003</div>
<div class="t" style="left:2.2px;top:794.72px;font-size:10.0px;transform:scaleX(0.9408);transform-origin:0 0;">16 May 2020</div>
<div class="t" style="left:66.2px;top:794.72px;font-size:10.0px;transform:scaleX(0.9442);transform-origin:0 0;">26 May 2020</div>
<div class="t" style="left:130.2px;top:794.72px;font-size:10.0px;transform:scaleX(0.9031);transform-origin:0 0;">4 Jun 2020</div>
<div class="t" style="left:194.2px;top:794.72px;font-size:10.0px;transform:scaleX(0.9009);transform-origin:0 0;">13 Jun 2020</div>
<div class="t" style="left:258.2px;top:794.72px;font-size:10.0px;transform:scaleX(0.9009);transform-origin:0 0;">23 Jun 2020</div>
<div class="t" style="left:322.2px;top:794.72px;font-size:10.0px;transform:scaleX(0.9035);transform-origin:0 0;">2 Jul 2020</div>
<div class="t" style="left:386.2px;top:794.72px;font-size:10.0px;transform:scaleX(0.9043);transform-origin:0 0;">11 Jul 2020</div>
<div class="t" style="left:450.2px;top:794.72px;font-size:10.0px;transform:scaleX(0.9030);transform-origin:0 0;">21 Jul 2020</div>
<div class="t" style="left:514.2px;top:794.72px;font-size:10.0px;transform:scaleX(0.8991);transform-origin:0 0;">30 Jul 2020</div>
<div class="t" style="left:578.2px;top:794.72px;font-size:10.0px;transform:scaleX(0.9385);transform-origin:0 0;">8 Aug 2020</div>
<div class="t" style="left:642.2px;top:794.72px;font-size:10.0px;transform:scaleX(0.9292);transform-origin:0 0;">18 Aug 2020</div>
<div class="t" style="left:706.2px;top:794.72px;font-size:10.0px;transform:scaleX(0.9363);transform-origin:0 0;">27 Aug 2020</div>
<div class="t" style="left:770.2px;top:794.72px;font-size:10.0px;transform:scaleX(0.9127);transform-origin:0 0;">5 Sep 2020</div>
<div class="t" style="left:834.2px;top:794.72px;font-size:10.0px;transform:scaleX(0.9025);transform-origin:0 0;">15 Sep 2020</div>
<div class="t" style="left:898.2px;top:794.72px;font-size:10.0px;transform:scaleX(0.8990);transform-origin:0 0;">24 Sep 2020</div>
<div class="t" style="left:962.2px;top:794.72px;font-size:10.0px;transform:scaleX(0.9299);transform-origin:0 0;">3 Oct 2020</div>
<div class="t" style="left:1026.2px;top:794.72px;font-size:10.0px;transform:scaleX(0.9212);transform-origin:0 0;">13 Oct 2020</div>
<div class="t" style="left:1090.2px;top:794.72px;font-size:10.0px;transform:scaleX(0.9286);transform-origin:0 0;">22 Oct 2020</div>
<div class="t" style="left:1154.2px;top:794.72px;font-size:10.0px;transform:scaleX(0.9286);transform-origin:0 0;">31 Oct 2020</div>
<div class="t" style="left:1218.2px;top:794.72px;font-size:10.0px;transform:scaleX(0.9380);transform-origin:0 0;">10 Nov 2020</div>
<div style="position:absolute;left:0;top:810px;width:1638px;height:1px;background:#e3e3e3"></div>
<div style="position:absolute;left:0;top:811px;width:1638px;height:22px;background:#f0f0f0"></div>
<div style="position:absolute;left:0;top:812px;width:1638px;height:1px;background:#000"></div>
<div style="position:absolute;left:4px;top:811px;width:104px;height:20px;background:#fff;border:1px solid #000;border-top:none;box-sizing:border-box;box-shadow:1px 1px 0 #808080"></div>
<div class="t" style="left:15.9px;top:817.44px;font-size:12.2px;transform:scaleX(0.9791);transform-origin:0 0;">EURUSD,Daily</div>
<div class="t" style="left:117.6px;top:817.44px;font-size:12.2px;color:#6c6c72;transform:scaleX(1.0003);transform-origin:0 0;">USDCHF,Daily</div>
<div class="t" style="left:218.6px;top:817.44px;font-size:12.2px;color:#6c6c72;transform:scaleX(1.0071);transform-origin:0 0;">AUDUSD,Daily</div>
<div class="t" style="left:322.6px;top:817.44px;font-size:12.2px;color:#6c6c72;transform:scaleX(1.0023);transform-origin:0 0;">USDCAD,Daily</div>
<div class="t" style="left:425.3px;top:817.44px;font-size:12.2px;color:#6c6c72;transform:scaleX(1.0147);transform-origin:0 0;">USDCNH,Daily</div>
<div class="t" style="left:531.3px;top:817.44px;font-size:12.2px;color:#6c6c72;transform:scaleX(0.9864);transform-origin:0 0;">EURUSD,Daily</div>
<div class="t" style="left:635.4px;top:817.44px;font-size:12.2px;color:#6c6c72;transform:scaleX(0.9758);transform-origin:0 0;">GBPUSD,H4</div>
<div class="t" style="left:726.2px;top:817.44px;font-size:12.2px;color:#6c6c72;transform:scaleX(1.0081);transform-origin:0 0;">XAUUSD,Daily</div>
<div class="t" style="left:831.1px;top:817.44px;font-size:12.2px;color:#6c6c72;transform:scaleX(1.0061);transform-origin:0 0;">HK50,H1</div>
<div class="t" style="left:902.2px;top:817.44px;font-size:12.2px;color:#6c6c72;transform:scaleX(1.0198);transform-origin:0 0;">UK100,H1</div>
<div class="t" style="left:982.6px;top:817.44px;font-size:12.2px;color:#6c6c72;transform:scaleX(1.0180);transform-origin:0 0;">UK100,H1</div>
<div class="t" style="left:1062.6px;top:817.44px;font-size:12.2px;color:#6c6c72;transform:scaleX(0.9696);transform-origin:0 0;">GER30,H1</div>
<div class="t" style="left:1141.6px;top:817.44px;font-size:12.2px;color:#6c6c72;transform:scaleX(0.9710);transform-origin:0 0;">FRA40,H1</div>
<div class="t" style="left:1217.6px;top:817.44px;font-size:12.2px;color:#6c6c72;transform:scaleX(1.0110);transform-origin:0 0;">USOil,H4</div>
<div class="t" style="left:1289.6px;top:817.44px;font-size:12.2px;color:#6c6c72;transform:scaleX(0.9627);transform-origin:0 0;">USDJPY,H1</div>
<div class="t" style="left:1373.6px;top:817.44px;font-size:12.2px;color:#6c6c72;transform:scaleX(1.0105);transform-origin:0 0;">DJ30,Daily</div>
<div class="t" style="left:1453.6px;top:817.44px;font-size:12.2px;color:#6c6c72;transform:scaleX(1.0234);transform-origin:0 0;">CHINA300,H1</div>
<div class="t" style="left:1553.6px;top:817.44px;font-size:12.2px;color:#6c6c72;transform:scaleX(1.0051);transform-origin:0 0;">USOil,H1</div>
<div class="sep" style="left:208px"></div>
<div class="sep" style="left:312px"></div>
<div class="sep" style="left:416px"></div>
<div class="sep" style="left:520px"></div>
<div class="sep" style="left:624px"></div>
<div class="sep" style="left:716px"></div>
<div class="sep" style="left:820px"></div>
<div class="sep" style="left:892px"></div>
<div class="sep" style="left:972px"></div>
<div class="sep" style="left:1052px"></div>
<div class="sep" style="left:1132px"></div>
<div class="sep" style="left:1209px"></div>
<div class="sep" style="left:1280px"></div>
<div class="sep" style="left:1364px"></div>
<div class="sep" style="left:1444px"></div>
<div class="sep" style="left:1544px"></div>
<svg style="position:absolute;left:1606px;top:814px" width="32" height="14" viewBox="0 0 32 14"><path d="M8 4v6l-3.500-3z" fill="#a0a0a0"/><path d="M24 3.500v7l4-3.500z" fill="#000"/></svg>
</body></html>
